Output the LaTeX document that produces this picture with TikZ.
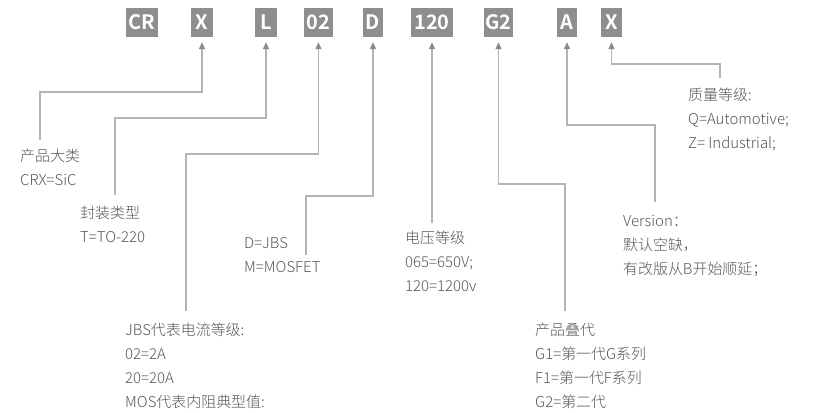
\documentclass[tikz,border=0pt]{standalone}
\usepackage{fontspec}
\setmainfont{Noto Sans CJK SC}[UprightFont=* Light, BoldFont=* Bold]
\usetikzlibrary{arrows.meta}
\definecolor{boxgray}{HTML}{8E8E8E}
\definecolor{linegray}{HTML}{B4B4B4}
\definecolor{arrowgray}{HTML}{8A8A8A}
\definecolor{txtgray}{HTML}{555555}
\tikzset{
  codebox/.style={fill=boxgray, text=white, font=\fontsize{20}{20}\bfseries\selectfont,
    minimum height=29bp, inner sep=0pt, anchor=center},
  conn/.style={draw=linegray, line width=1.2bp,
    -{Triangle[width=6bp,length=7bp,color=arrowgray]}},
  desc/.style={text=txtgray, font=\fontsize{15}{24}\selectfont, align=left,
    anchor=north west, inner sep=0pt},
}
\begin{document}
\begin{tikzpicture}[x=1bp,y=-1bp]
\useasboundingbox (0,0) rectangle (813,412);
% code boxes
\node[codebox, minimum width=32bp] (bCR)  at (142,22.5) {CR};
\node[codebox, minimum width=22bp] (bX)   at (202,22.5) {X};
\node[codebox, minimum width=22bp] (bL)   at (266,22.5) {L};
\node[codebox, minimum width=29bp] (b02)  at (318.5,22.5) {02};
\node[codebox, minimum width=20bp] (bD)   at (373,22.5) {D};
\node[codebox, minimum width=42bp] (b120) at (432,22.5) {120};
\node[codebox, minimum width=29bp] (bG2)  at (498.5,22.5) {G2};
\node[codebox, minimum width=20bp] (bA)   at (567,22.5) {A};
\node[codebox, minimum width=21bp] (bX2)  at (611.5,22.5) {X};
% descriptions
\node[desc] (t1) at (20,149) {产品大类\\CRX=SiC};
\node[desc] (t2) at (80,206) {封装类型\\T=TO-220};
\node[desc] (t3) at (244,237) {D=JBS\\M=MOSFET};
\node[desc] (t4) at (125,323) {JBS代表电流等级:\\02=2A\\20=20A\\MOS代表内阻典型值:};
\node[desc] (t5) at (405,231) {电压等级\\065=650V;\\120=1200v};
\node[desc] (t6) at (535,323) {产品叠代\\G1=第一代G系列\\F1=第一代F系列\\G2=第二代};
\node[desc] (t7) at (623,215) {Version：\\默认空缺，\\有改版从B开始顺延；};
\node[desc] (t8) at (688,88) {质量等级:\\Q=Automotive;\\Z= Industrial;};
% connector ends
\coordinate (e1) at (40,140);
\coordinate (e2) at (115,195);
\coordinate (e3) at (186,311);
\coordinate (e4) at (306,255);
\coordinate (e5) at (432,223);
\coordinate (e6) at (565,311);
\coordinate (e7) at (655,202);
\coordinate (e8) at (720,78);
% connectors
\draw[conn] (e1) -- (40,92)  -| ([yshift=-5bp]bX.south);
\draw[conn] (e2) -- (115,118) -| ([yshift=-5bp]bL.south);
\draw[conn] (e3) -- (186,154) -| ([yshift=-5bp]b02.south);
\draw[conn] (e4) -- (306,196) -| ([yshift=-5bp]bD.south);
\draw[conn] (e5) -- ([yshift=-5bp]b120.south);
\draw[conn] (e6) -- (565,184) -| ([yshift=-5bp]bG2.south);
\draw[conn] (e7) -- (655,125) -| ([yshift=-5bp]bA.south);
\draw[conn] (e8) -- (720,64)  -| ([yshift=-5bp]bX2.south);
\end{tikzpicture}
\end{document}
